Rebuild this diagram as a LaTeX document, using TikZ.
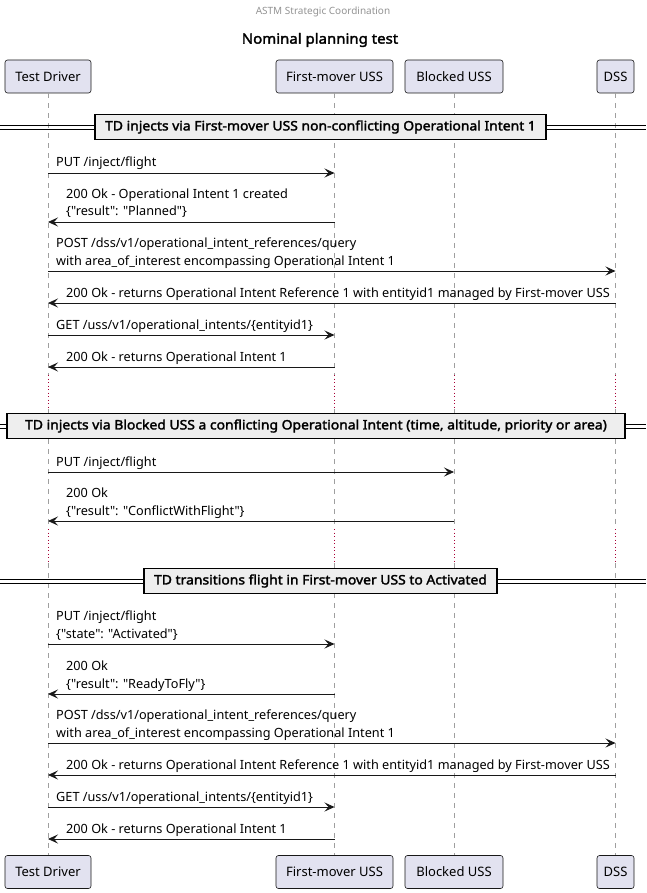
\documentclass[tikz,border=0pt]{standalone}
\usepackage{fontspec}
\newfontfamily\uifont{Noto Sans}
\newfontfamily\uibold{Noto Sans}[FakeBold=2.2, FakeStretch=1.07]
\usetikzlibrary{arrows.meta}
\definecolor{partfill}{HTML}{E2E2F0}
\definecolor{partline}{HTML}{181818}
\definecolor{delayc}{HTML}{A80036}
\definecolor{sepfill}{HTML}{EEEEEE}
\begin{document}
\begin{tikzpicture}[x=1pt,y=-1pt,
  part/.style={draw=partline, fill=partfill, rounded corners=2.5pt, minimum height=33pt, inner sep=0pt, font=\uifont\fontsize{13}{15}\selectfont, line width=0.6pt},
  life/.style={draw=gray!75, dash pattern=on 5pt off 5pt, line width=0.5pt},
  delayline/.style={draw=delayc, dash pattern=on 1pt off 2.5pt, line width=0.6pt},
  msg/.style={draw=partline, line width=0.8pt, -{Stealth[length=10pt,width=9pt,inset=4pt]}},
  lbl/.style={anchor=base west, inner sep=0pt, font=\uifont\fontsize{12.7}{15}\selectfont},
  sepbox/.style={draw=black, fill=sepfill, line width=1.4pt, font=\uibold\fontsize{13}{15}\selectfont, inner xsep=0pt, minimum height=25pt, inner ysep=0pt},
  sepline/.style={draw=black, line width=0.8pt}
]
\path[use as bounding box] (0,0) rectangle (646,893);

% header and title
\node[text=gray!85, font=\uifont\fontsize{10}{12}\selectfont] (hdr) at (323,12) {ASTM Strategic Coordination};
\node[font=\uibold\fontsize{14}{16}\selectfont] (ttl) at (320,40) {Nominal planning test};

% participants
\node[part, minimum width=86pt] (tdT) at (48,76.5) {Test Driver};
\node[part, minimum width=117pt] (fmT) at (334.5,76.5) {First-mover USS};
\node[part, minimum width=98pt] (buT) at (454,76.5) {Blocked USS};
\node[part, minimum width=37pt] (dssT) at (615.5,76.5) {DSS};

\node[part, minimum width=86pt] (tdB) at (48,872) {Test Driver};
\node[part, minimum width=117pt] (fmB) at (334.5,872) {First-mover USS};
\node[part, minimum width=98pt] (buB) at (454,872) {Blocked USS};
\node[part, minimum width=37pt] (dssB) at (615.5,872) {DSS};

% lifelines
\foreach \n in {td,fm,bu,dss} {
  \draw[life] (\n T.south) -- (\n T |- 0,375);
  \draw[delayline] (\n T |- 0,375) -- (\n T |- 0,409);
  \draw[life] (\n T |- 0,409) -- (\n T |- 0,529);
  \draw[delayline] (\n T |- 0,529) -- (\n T |- 0,563);
  \draw[life] (\n T |- 0,563) -- (\n B.north);
}

% separators
\foreach \y in {127,426,581} {
  \draw[sepline] (0,\y-2) -- (646,\y-2);
  \draw[sepline] (0,\y+2) -- (646,\y+2);
}
\node[sepbox, minimum width=451pt] (sep1) at (320.5,127) {TD injects via First-mover USS non-conflicting Operational Intent 1};
\node[sepbox, minimum width=618pt] (sep2) at (316,426) {TD injects via Blocked USS a conflicting Operational Intent (time, altitude, priority or area)};
\node[sepbox, minimum width=353pt] (sep3) at (320.5,581) {TD transitions flight in First-mover USS to Activated};

% messages block 1
\draw[msg] (tdT |- 0,173) -- (fmT |- 0,173);
\node[lbl] (m1) at (56,166.5) {PUT /inject/flight};

\draw[msg] (fmT |- 0,222) -- (tdT |- 0,222);
\node[lbl] (m2a) at (66,198.5) {200 Ok - Operational Intent 1 created};
\node[lbl] (m2b) at (66,216) {\{"result": "Planned"\}};

\draw[msg] (tdT |- 0,271) -- (dssT |- 0,271);
\node[lbl] (m3a) at (56,247.5) {POST /dss/v1/operational\_intent\_references/query};
\node[lbl] (m3b) at (56,265) {with area\_of\_interest encompassing Operational Intent 1};

\draw[msg] (dssT |- 0,303) -- (tdT |- 0,303);
\node[lbl] (m4) at (66,297) {200 Ok - returns Operational Intent Reference 1 with entityid1 managed by First-mover USS};

\draw[msg] (tdT |- 0,335) -- (fmT |- 0,335);
\node[lbl] (m5) at (56,329) {GET /uss/v1/operational\_intents/\{entityid1\}};

\draw[msg] (fmT |- 0,367) -- (tdT |- 0,367);
\node[lbl] (m6) at (66,361) {200 Ok - returns Operational Intent 1};

% block 2
\draw[msg] (tdT |- 0,472) -- (buT |- 0,472);
\node[lbl] (m7) at (56,466) {PUT /inject/flight};

\draw[msg] (buT |- 0,521) -- (tdT |- 0,521);
\node[lbl] (m8a) at (66,497.5) {200 Ok};
\node[lbl] (m8b) at (66,515) {\{"result": "ConflictWithFlight"\}};

% block 3
\draw[msg] (tdT |- 0,644) -- (fmT |- 0,644);
\node[lbl] (m9a) at (56,620.5) {PUT /inject/flight};
\node[lbl] (m9b) at (56,638) {\{"state": "Activated"\}};

\draw[msg] (fmT |- 0,694) -- (tdT |- 0,694);
\node[lbl] (m10a) at (66,670.5) {200 Ok};
\node[lbl] (m10b) at (66,688) {\{"result": "ReadyToFly"\}};

\draw[msg] (tdT |- 0,743) -- (dssT |- 0,743);
\node[lbl] (m11a) at (56,719.5) {POST /dss/v1/operational\_intent\_references/query};
\node[lbl] (m11b) at (56,737) {with area\_of\_interest encompassing Operational Intent 1};

\draw[msg] (dssT |- 0,775) -- (tdT |- 0,775);
\node[lbl] (m12) at (66,769) {200 Ok - returns Operational Intent Reference 1 with entityid1 managed by First-mover USS};

\draw[msg] (tdT |- 0,807) -- (fmT |- 0,807);
\node[lbl] (m13) at (56,801) {GET /uss/v1/operational\_intents/\{entityid1\}};

\draw[msg] (fmT |- 0,839) -- (tdT |- 0,839);
\node[lbl] (m14) at (66,833) {200 Ok - returns Operational Intent 1};
\end{tikzpicture}
\end{document}
